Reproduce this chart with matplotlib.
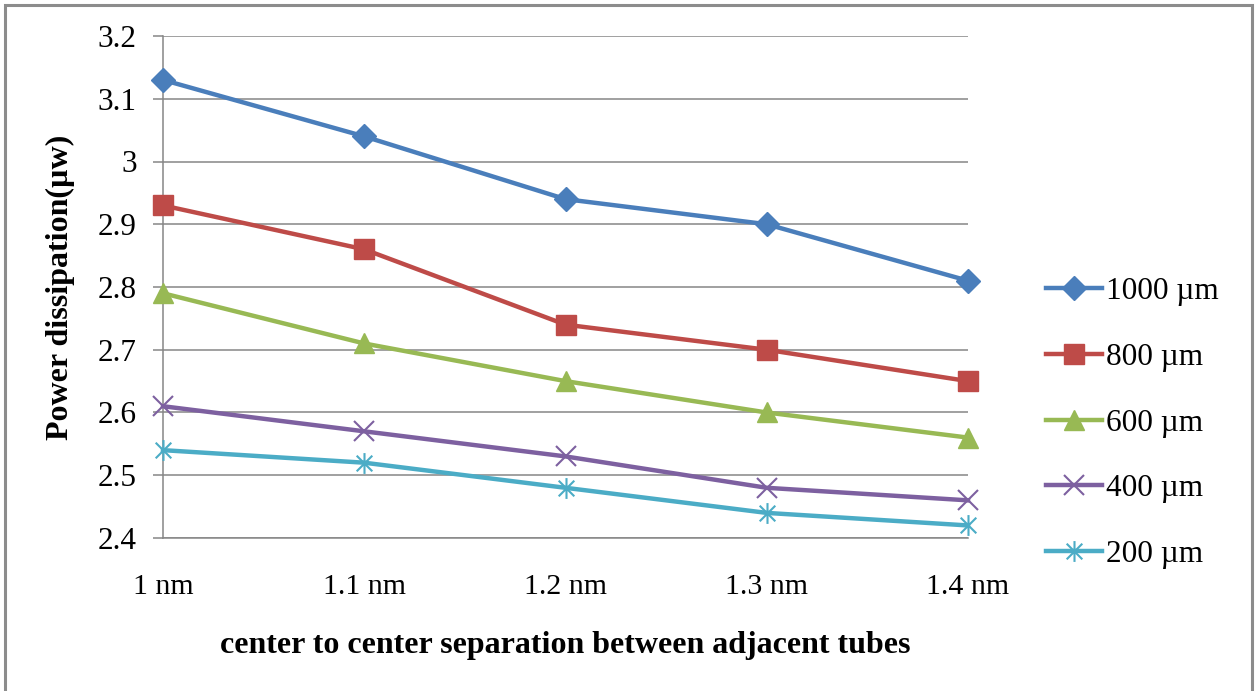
import matplotlib
matplotlib.use("Agg")
import matplotlib.pyplot as plt
from matplotlib.path import Path
from matplotlib.patches import Rectangle

plt.rcParams['font.family'] = ['Liberation Serif', 'DejaVu Serif']

# Data
separations = [1.0, 1.1, 1.2, 1.3, 1.4]
x_tick_labels = ["1 nm", "1.1 nm", "1.2 nm", "1.3 nm", "1.4 nm"]
series_labels = ["1000 µm", "800 µm", "600 µm", "400 µm", "200 µm"]
p_1000 = [3.13, 3.04, 2.94, 2.90, 2.81]
p_800 = [2.93, 2.86, 2.74, 2.70, 2.65]
p_600 = [2.79, 2.71, 2.65, 2.60, 2.56]
p_400 = [2.61, 2.57, 2.53, 2.48, 2.46]
p_200 = [2.54, 2.52, 2.48, 2.44, 2.42]
y_ticks = [2.4, 2.5, 2.6, 2.7, 2.8, 2.9, 3.0, 3.1, 3.2]
y_tick_labels = ["2.4", "2.5", "2.6", "2.7", "2.8", "2.9", "3", "3.1", "3.2"]

# Asterisk marker: vertical stroke plus an x
star_path = Path(
    [(0, -1), (0, 1), (-0.75, -0.75), (0.75, 0.75), (-0.75, 0.75), (0.75, -0.75)],
    [Path.MOVETO, Path.LINETO, Path.MOVETO, Path.LINETO, Path.MOVETO, Path.LINETO],
)

styles = [
    dict(color="#4A7EBB", marker="D", markersize=12),
    dict(color="#BE4B48", marker="s", markersize=14),
    dict(color="#98B954", marker="^", markersize=15),
    dict(color="#7D60A0", marker="x", markersize=14, markeredgewidth=1.5),
    dict(color="#4BACC6", marker=star_path, markersize=15, markeredgewidth=1.5),
]

fig = plt.figure(figsize=(12.56, 6.91), dpi=100)
ax = fig.add_axes([163 / 1256, 1 - 538 / 691, (968 - 163) / 1256, (538 - 36) / 691])

grid_color = "#868686"
for values, label, st in zip([p_1000, p_800, p_600, p_400, p_200], series_labels, styles):
    ax.plot(separations, values, label=label, linewidth=3.2, clip_on=False, zorder=3, **st)

ax.set_xlim(1.0, 1.4)
ax.set_ylim(2.4, 3.2)
ax.set_yticks(y_ticks)
ax.set_yticklabels(y_tick_labels)
ax.set_xticks(separations)
ax.set_xticklabels(x_tick_labels)

ax.yaxis.grid(True, color=grid_color, linewidth=1.1)
ax.set_axisbelow(True)
for side in ("top", "right"):
    ax.spines[side].set_visible(False)
for side in ("left", "bottom"):
    ax.spines[side].set_color(grid_color)
    ax.spines[side].set_linewidth(1.1)

ax.tick_params(axis="y", direction="out", length=7, width=1.1, color=grid_color,
               pad=12, labelsize=22.5)
ax.tick_params(axis="x", length=0, pad=26, labelsize=21.5)

ax.set_xlabel("center to center separation between adjacent tubes",
              fontsize=23, fontweight="bold", labelpad=22)
ax.set_ylabel("Power dissipation(µw)", fontsize=23, fontweight="bold", labelpad=16)

leg = fig.legend(loc="center left", bbox_to_anchor=(1046 / 1256, 1 - 423 / 691),
                 frameon=False, fontsize=22.5, handlelength=1.8, handletextpad=0.12,
                 labelspacing=1.17, borderpad=0, borderaxespad=0)

# Outer border of the chart
fig.patches.append(Rectangle((5 / 1256, -0.05), (1252 - 5) / 1256, 1.05 - 5 / 691,
                             transform=fig.transFigure, fill=False,
                             edgecolor="#8C8C8C", linewidth=2.2))

fig.savefig("out.png", dpi=100)
